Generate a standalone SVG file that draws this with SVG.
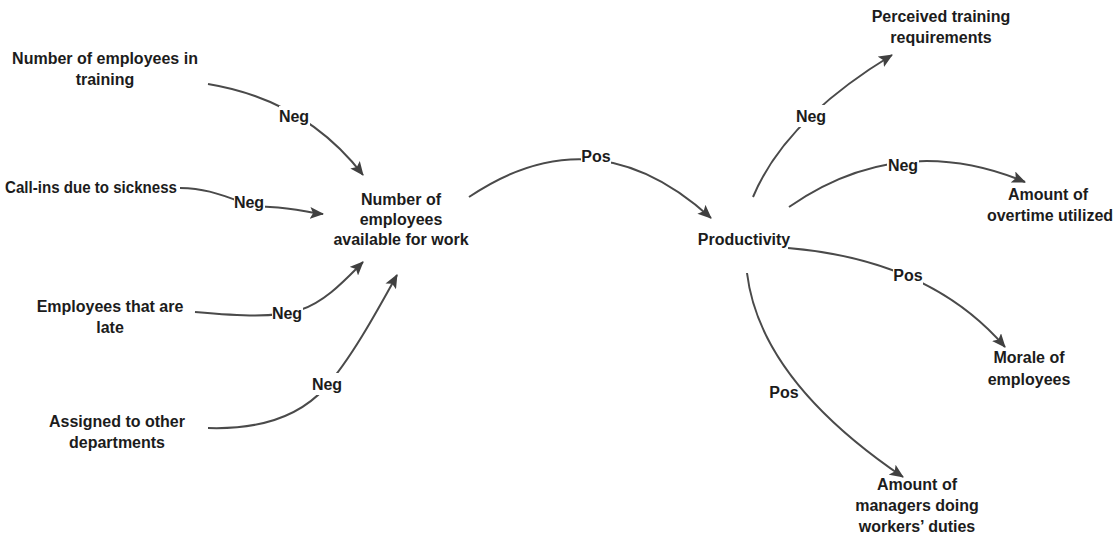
<svg xmlns="http://www.w3.org/2000/svg" width="1117" height="539" viewBox="0 0 1117 539">
  <style>
    text { font-family: "Liberation Sans", Arial, sans-serif; font-size: 16px; font-weight: bold; fill: #1c1c1c; }
    .node text { text-anchor: middle; }
    .lbl { text-anchor: middle; }
    .edge { fill: none; stroke: #4a4a4a; stroke-width: 2; marker-end: url(#arrow); }
    .gap { fill: #ffffff; }
  </style>
  <defs>
    <marker id="arrow" viewBox="0 0 14 12" refX="13" refY="6" markerWidth="14" markerHeight="12" markerUnits="userSpaceOnUse" orient="auto">
      <path d="M0,0 L14,6 L0,12 L3,6 Z" fill="#404040"/>
    </marker>
  </defs>
  <rect width="1117" height="539" fill="#ffffff"/>

  <!-- connectors -->
  <g id="connectors">
    <path class="edge" d="M208,84 Q305,100 363,175"/>
    <path class="edge" d="M180,188 C225,189 235,206 270,207 C295,208 310,213 323,214"/>
    <path class="edge" d="M195,312 C240,316 275,318 300,310 C325,302 345,280 363,262"/>
    <path class="edge" d="M208,428 C270,430 305,410 325,388 C350,360 375,315 397,275"/>
    <path class="edge" d="M469,197 Q595,112 711,218"/>
    <path class="edge" d="M753,197 Q785,120 892,55"/>
    <path class="edge" d="M789,207 Q900,130 1025,182"/>
    <path class="edge" d="M788,248 Q930,260 1005,347"/>
    <path class="edge" d="M747,273 Q760,380 903,477"/>

    <!-- polarity labels, each cut into its line -->
    <rect class="gap" x="279" y="106" width="31" height="20"/>
    <text class="lbl" x="294" y="122">Neg</text>
    <rect class="gap" x="234" y="193" width="31" height="19"/>
    <text class="lbl" x="249" y="208">Neg</text>
    <rect class="gap" x="272" y="304" width="31" height="19"/>
    <text class="lbl" x="287" y="319">Neg</text>
    <rect class="gap" x="311" y="373" width="32" height="22"/>
    <text class="lbl" x="327" y="390">Neg</text>
    <rect class="gap" x="581" y="147" width="30" height="19"/>
    <text class="lbl" x="596" y="162">Pos</text>
    <rect class="gap" x="795" y="105" width="32" height="22"/>
    <text class="lbl" x="811" y="122">Neg</text>
    <rect class="gap" x="887" y="156" width="32" height="19"/>
    <text class="lbl" x="903" y="171">Neg</text>
    <rect class="gap" x="893" y="265" width="30" height="20"/>
    <text class="lbl" x="908" y="281">Pos</text>
    <text class="lbl" x="784" y="398">Pos</text>
  </g>

  <!-- nodes -->
  <g id="node-training" class="node">
    <text x="105" y="64">Number of employees in</text>
    <text x="105" y="85">training</text>
  </g>
  <g id="node-callins" class="node">
    <text x="91" y="193" textLength="172" lengthAdjust="spacingAndGlyphs">Call-ins due to sickness</text>
  </g>
  <g id="node-late" class="node">
    <text x="110" y="312">Employees that are</text>
    <text x="110" y="333">late</text>
  </g>
  <g id="node-assigned" class="node">
    <text x="117" y="427">Assigned to other</text>
    <text x="117" y="448">departments</text>
  </g>
  <g id="node-available" class="node">
    <text x="401" y="205">Number of</text>
    <text x="401" y="225">employees</text>
    <text x="401" y="245">available for work</text>
  </g>
  <g id="node-productivity" class="node">
    <text x="744" y="245">Productivity</text>
  </g>
  <g id="node-perceived" class="node">
    <text x="941" y="22">Perceived training</text>
    <text x="941" y="43">requirements</text>
  </g>
  <g id="node-overtime" class="node">
    <text x="1048" y="200">Amount of</text>
    <text x="1050" y="221">overtime utilized</text>
  </g>
  <g id="node-morale" class="node">
    <text x="1029" y="363">Morale of</text>
    <text x="1029" y="385">employees</text>
  </g>
  <g id="node-managers" class="node">
    <text x="917" y="490">Amount of</text>
    <text x="917" y="511">managers doing</text>
    <text x="917" y="532">workers’ duties</text>
  </g>
</svg>
